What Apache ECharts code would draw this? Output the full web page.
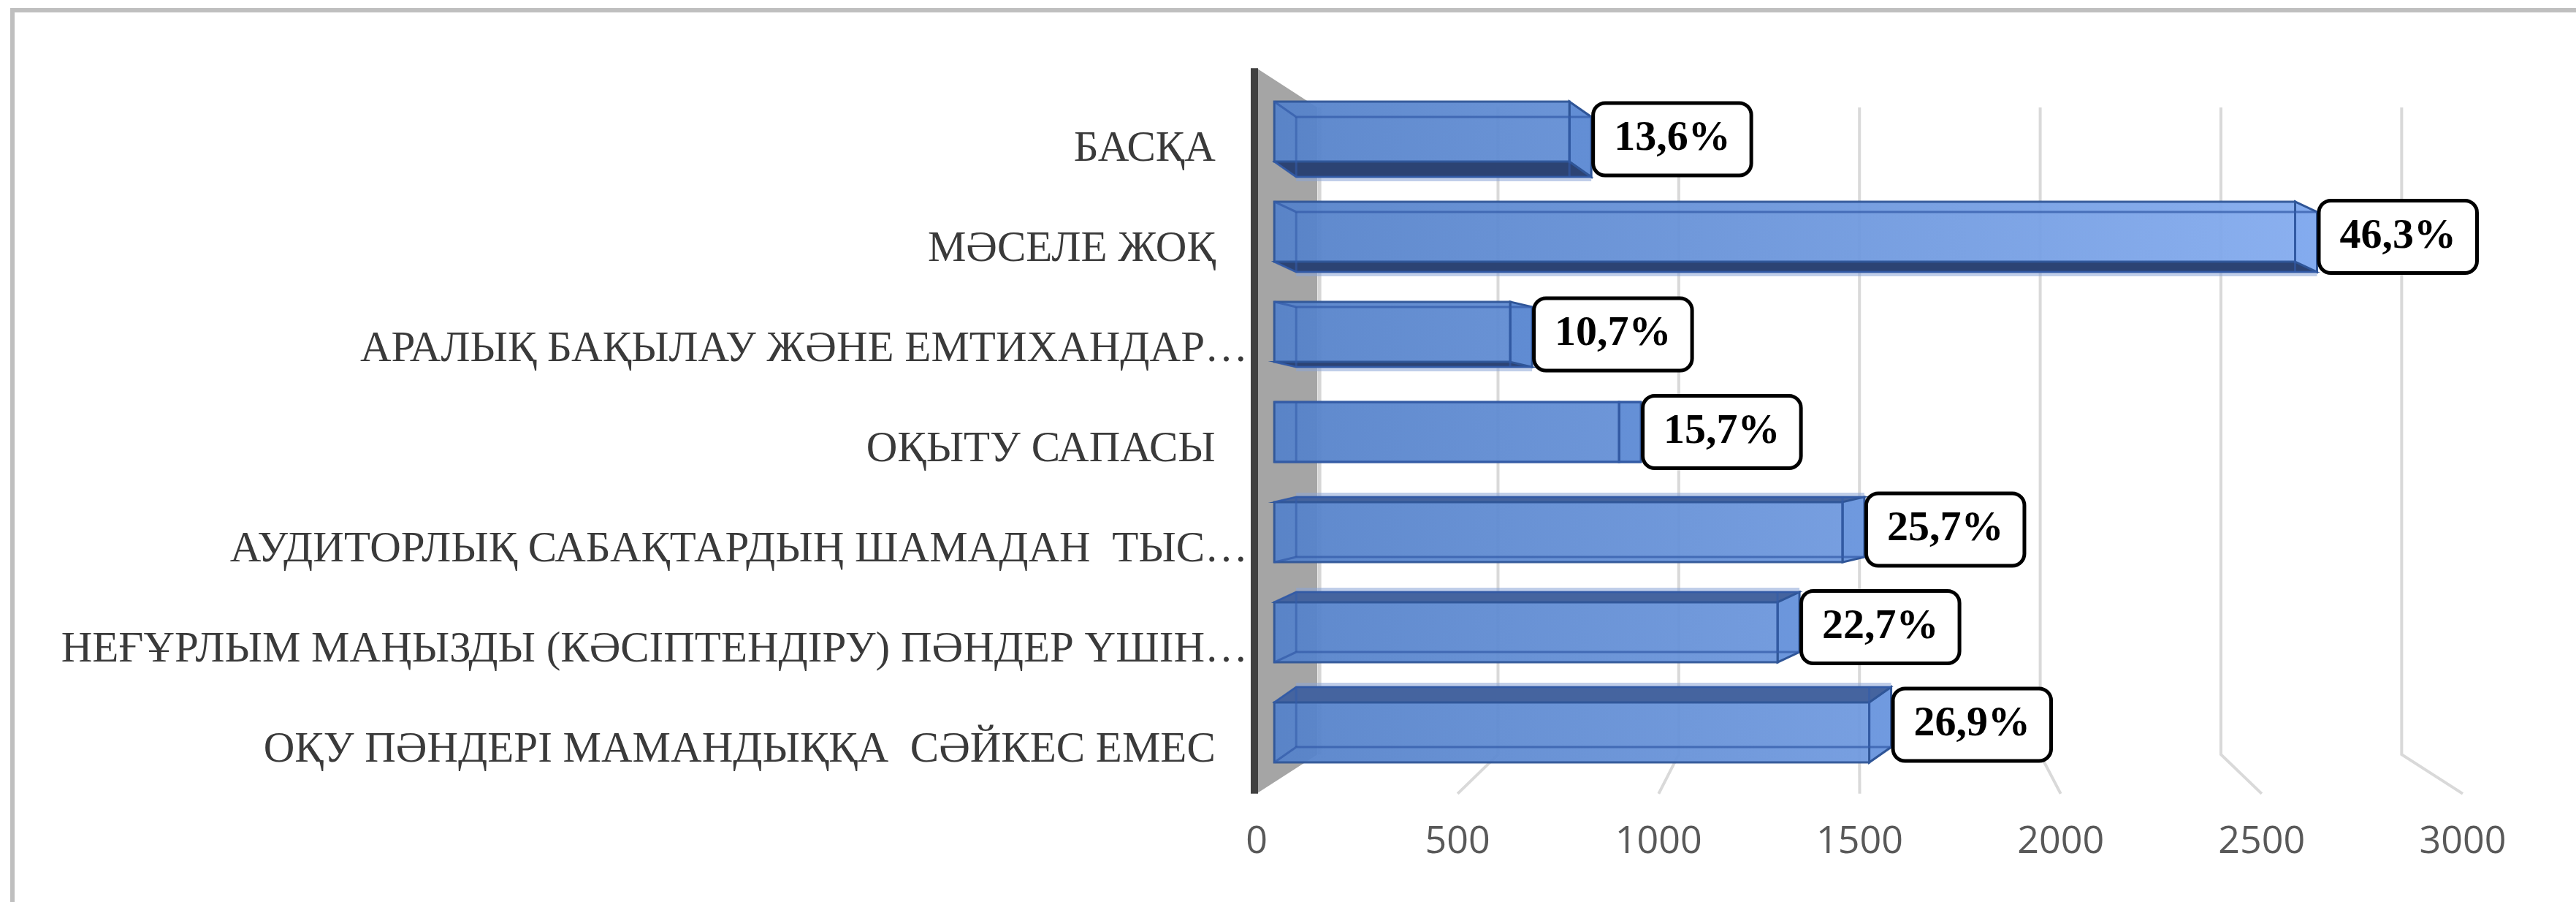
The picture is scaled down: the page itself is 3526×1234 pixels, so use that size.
<!DOCTYPE html>
<html>
<head>
<meta charset="utf-8">
<script src="https://cdn.jsdelivr.net/npm/echarts@6/dist/echarts.min.js"></script>
<style>
  html, body { margin: 0; padding: 0; background: #fff; }
  #chart { width: 3526px; height: 1234px; }
</style>
</head>
<body>
<div id="chart"></div>
<script>
const categories = [
  'БАСҚА',
  'МӘСЕЛЕ ЖОҚ',
  'АРАЛЫҚ БАҚЫЛАУ ЖӘНЕ ЕМТИХАНДАР…',
  'ОҚЫТУ САПАСЫ',
  'АУДИТОРЛЫҚ САБАҚТАРДЫҢ ШАМАДАН  ТЫС…',
  'НЕҒҰРЛЫМ МАҢЫЗДЫ (КӘСІПТЕНДІРУ) ПӘНДЕР ҮШІН…',
  'ОҚУ ПӘНДЕРІ МАМАНДЫҚҚА  СӘЙКЕС ЕМЕС'
];
const counts = [830, 2730, 675, 960, 1545, 1375, 1615];
const percents = [13.6, 46.3, 10.7, 15.7, 25.7, 22.7, 26.9];
const xTicks = [0, 500, 1000, 1500, 2000, 2500, 3000];

// rough imitation of the excel 3d box (front axis units, frame axis 0..1)
const BACK_SHIFT = 151, BACK_SCALE = 0.899;
const BAR_SHIFT = 44, BAR_SCALE = 0.95;
const FRAME = { wallTop: 1.019, backTop: 0.963, backBottom: 0.040, frontBottom: -0.016 };

const chart = echarts.init(document.getElementById('chart'));

function pct(v) {
  return v.toFixed(1).replace('.', ',') + '%';
}

function renderGrid(params, api) {
  const v = api.value(0);
  const ub = BACK_SHIFT + BACK_SCALE * v;
  const a = api.coord([ub, FRAME.backTop]);
  const b = api.coord([ub, FRAME.backBottom]);
  const c = api.coord([v, FRAME.frontBottom]);
  return {
    type: 'polyline',
    shape: { points: [a, b, c] },
    style: { stroke: '#d9d9d9', lineWidth: 4, fill: null }
  };
}

function renderWall(params, api) {
  const p1 = api.coord([0, FRAME.wallTop]);
  const p2 = api.coord([BACK_SHIFT, FRAME.backTop]);
  const p3 = api.coord([BACK_SHIFT, FRAME.backBottom]);
  const p4 = api.coord([0, FRAME.frontBottom]);
  return {
    type: 'group',
    children: [
      { type: 'polygon', shape: { points: [p1, p2, p3, p4] }, style: { fill: '#a5a5a5' } },
      { type: 'line', shape: { x1: p2[0] + 3, y1: p2[1], x2: p3[0] + 3, y2: p3[1] },
        style: { stroke: '#d6d6d6', lineWidth: 5 } },
      { type: 'line', shape: { x1: p1[0] - 3, y1: p1[1], x2: p4[0] - 3, y2: p4[1] },
        style: { stroke: '#404040', lineWidth: 10 } }
    ]
  };
}

function renderBar(params, api) {
  const i = api.value(1);
  const mid = (categories.length - 1) / 2;
  const c0 = api.coord([BAR_SHIFT, i]);
  const c1 = api.coord([BAR_SHIFT + BAR_SCALE * api.value(0), i]);
  const g0 = api.coord([0, i])[0], g1 = api.coord([3000, i])[0];
  const band = api.size([0, 1])[1];
  const fh = band * 0.6;
  const dx = 30;
  const s = (mid - i) * 7;
  const x0 = c0[0], x1 = c1[0] - dx;
  const yt = c0[1] - fh / 2, yb = c0[1] + fh / 2;
  const edgeY = s >= 0 ? yb : yt;
  const grad = new echarts.graphic.LinearGradient(0, 0, 0, 0, [
    { offset: 0, color: '#5481c9' },
    { offset: 1, color: '#8ab1f4' }
  ], true);
  grad.x = g0; grad.y = 0; grad.x2 = g1; grad.y2 = 0;
  const children = [];
  if (s !== 0) {
    const out = edgeY + s + (s > 0 ? 6 : -6);
    children.push({
      type: 'polygon',
      shape: { points: [[x0 + dx, edgeY + s], [x1 + dx, edgeY + s], [x1 + dx, out], [x0 + dx, out]] },
      style: { fill: 'rgba(140,165,215,0.55)' }
    });
    children.push({
      type: 'polygon',
      shape: { points: [[x0, edgeY], [x1, edgeY], [x1 + dx, edgeY + s], [x0 + dx, edgeY + s]] },
      style: { fill: s > 0 ? '#2c4373' : '#45649f', stroke: '#2f5597', lineWidth: 2 }
    });
  }
  children.push({
    type: 'polygon',
    shape: { points: [[x1, yt], [x1 + dx, yt + s], [x1 + dx, yb + s], [x1, yb]] },
    style: { fill: grad, stroke: '#2f5597', lineWidth: 3 }
  });
  children.push({
    type: 'rect',
    shape: { x: x0, y: yt, width: x1 - x0, height: fh },
    style: { fill: grad, stroke: '#2f5597', lineWidth: 3, opacity: 0.94 }
  });
  children.push({
    type: 'polyline',
    shape: { points: [[x0, yt], [x0 + dx, yt + s], [x1 + dx, yt + s]] },
    style: { stroke: 'rgba(52,92,170,0.75)', lineWidth: 3, fill: null }
  });
  children.push({
    type: 'polyline',
    shape: { points: [[x0, yb], [x0 + dx, yb + s], [x1 + dx, yb + s]] },
    style: { stroke: 'rgba(52,92,170,0.75)', lineWidth: 3, fill: null }
  });
  children.push({
    type: 'line',
    shape: { x1: x0 + dx, y1: yt + s, x2: x0 + dx, y2: yb + s },
    style: { stroke: 'rgba(52,92,170,0.6)', lineWidth: 3 }
  });
  children.push({
    type: 'line',
    shape: { x1: x1, y1: yt + s, x2: x1, y2: yb + s },
    style: { stroke: 'rgba(52,92,170,0.6)', lineWidth: 3 }
  });
  children.push({
    type: 'text',
    x: c1[0] + 5,
    y: c0[1] + s / 2,
    style: {
      text: pct(percents[i]),
      font: 'bold 58px "Liberation Serif"',
      fill: '#000',
      align: 'left',
      verticalAlign: 'middle',
      lineHeight: 58,
      backgroundColor: '#fff',
      borderColor: '#000',
      borderWidth: 5,
      borderRadius: 14,
      padding: [18, 26]
    }
  });
  return { type: 'group', children: children };
}

chart.setOption({
  animation: false,
  grid: { left: 1720, right: 155, top: 111.5, bottom: 163.5 },
  xAxis: [{
    type: 'value',
    min: 0,
    max: 3000,
    interval: 500,
    axisLine: { show: false },
    axisTick: { show: false },
    splitLine: { show: false },
    axisLabel: {
      fontFamily: 'Open Sans',
      fontSize: 52,
      color: '#595959',
      margin: 56,
      formatter: function (v) { return String(v); }
    }
  }],
  yAxis: [{
    type: 'category',
    inverse: true,
    data: categories,
    axisLine: { show: false },
    axisTick: { show: false },
    axisLabel: {
      margin: 12,
      formatter: function (v) {
        return '{gap| }\n{t|' + (v.endsWith('…') ? v : v + '\u2002 ') + '}';
      },
      rich: {
        gap: { fontSize: 10, lineHeight: 48 },
        t: { fontFamily: 'Liberation Serif', fontSize: 59, lineHeight: 60, color: '#3a3a3a' }
      }
    }
  }, {
    type: 'value',
    min: 0,
    max: 1,
    show: false
  }],
  graphic: [{
    type: 'rect',
    shape: { x: 17, y: 14, width: 3600, height: 1400 },
    style: { fill: 'none', stroke: '#bfbfbf', lineWidth: 6 },
    z: -10
  }],
  series: [{
    type: 'custom',
    name: 'grid',
    xAxisIndex: 0,
    yAxisIndex: 1,
    silent: true,
    z: 1,
    data: xTicks.filter(function (v) { return v > 0; }).map(function (v) { return [v, 0]; }),
    renderItem: renderGrid
  }, {
    type: 'custom',
    name: 'wall',
    xAxisIndex: 0,
    yAxisIndex: 1,
    silent: true,
    z: 2,
    data: [[0, 0]],
    renderItem: renderWall
  }, {
    type: 'custom',
    name: 'count',
    xAxisIndex: 0,
    yAxisIndex: 0,
    z: 3,
    encode: { x: 0, y: 1 },
    data: counts.map(function (v, i) { return [v, i]; }),
    renderItem: renderBar
  }]
});
</script>
</body>
</html>
